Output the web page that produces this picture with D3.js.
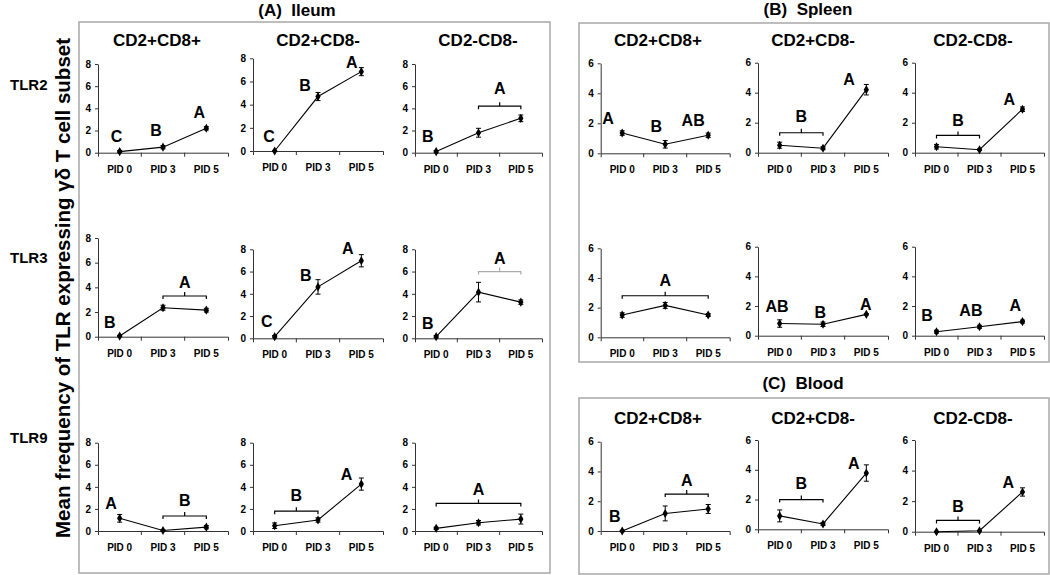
<!DOCTYPE html>
<html>
<head>
<meta charset="utf-8">
<script src="https://cdn.jsdelivr.net/npm/d3@7"></script>
<style>
  html, body { margin: 0; padding: 0; background: #fff; }
  svg { display: block; }
  .bold { font-family: "Liberation Sans", Arial, sans-serif; font-weight: bold; fill: #000; white-space: pre; }
  .tick text { font-family: "Liberation Sans Narrow", "Arial Narrow", "Liberation Sans", sans-serif; font-weight: bold; font-size: 10px; fill: #000; }
  .tick line, .domain { stroke: #333; stroke-width: 1; }
</style>
</head>
<body>
<svg id="chart" width="1050" height="575"></svg>
<script>
// ---------------- DATA ----------------
const categories = ["PID 0", "PID 3", "PID 5"];
const subsets = ["CD2+CD8+", "CD2+CD8-", "CD2-CD8-"];
const receptors = ["TLR2", "TLR3", "TLR9"];
const ileumTicks = [0, 2, 4, 6, 8];
const spleenBloodTicks = [0, 2, 4, 6];
const yAxisTitle = "Mean frequency of TLR expressing γδ T cell subset";
const tissueTitles = ["(A)  Ileum", "(B)  Spleen", "(C)  Blood"];

// means / SE per subset (CD2+CD8+, CD2+CD8-, CD2-CD8-), each over PID 0, 3, 5
const ileumTLR2Mean = [[0.1, 0.5, 2.2], [0.0, 4.7, 6.85], [0.1, 1.8, 3.1]];
const ileumTLR2Err  = [[0.1, 0.15, 0.15], [0.05, 0.35, 0.35], [0.1, 0.4, 0.3]];
const ileumTLR3Mean = [[0.05, 2.35, 2.15], [0.15, 4.62, 6.97], [0.15, 4.15, 3.25]];
const ileumTLR3Err  = [[0.05, 0.2, 0.15], [0.1, 0.65, 0.55], [0.1, 0.88, 0.2]];
const ileumTLR9Mean = [[1.15, 0.05, 0.35], [0.48, 1.0, 4.25], [0.24, 0.75, 1.08]];
const ileumTLR9Err  = [[0.35, 0.05, 0.15], [0.25, 0.2, 0.55], [0.1, 0.2, 0.45]];
const spleenTLR2Mean = [[1.35, 0.6, 1.2], [0.5, 0.3, 4.2], [0.4, 0.2, 2.9]];
const spleenTLR2Err  = [[0.15, 0.25, 0.15], [0.2, 0.1, 0.35], [0.15, 0.05, 0.15]];
const spleenTLR3Mean = [[1.5, 2.15, 1.5], [0.82, 0.77, 1.44], [0.27, 0.6, 0.95]];
const spleenTLR3Err  = [[0.15, 0.2, 0.1], [0.25, 0.15, 0.05], [0.1, 0.1, 0.1]];
const bloodMean = [[0.0, 1.18, 1.48], [0.9, 0.36, 3.78], [0.0, 0.06, 2.6]];
const bloodErr  = [[0.05, 0.5, 0.3], [0.4, 0.1, 0.55], [0.02, 0.02, 0.27]];

// significance letters: [text, category position, y value]
const ileumTLR2Letters = [[["C", -0.07, 1.5], ["B", 0.84, 2.0], ["A", 1.84, 3.65]],
                          [["C", -0.13, 1.3], ["B", 0.7, 5.7], ["A", 1.78, 7.7]],
                          [["B", -0.2, 1.5]]];
const ileumTLR3Letters = [[["B", -0.23, 1.2]],
                          [["C", -0.18, 1.5], ["B", 0.72, 5.7], ["A", 1.69, 8.1]],
                          [["B", -0.2, 1.35]]];
const ileumTLR9Letters = [[["A", -0.2, 2.5]], [["A", 1.66, 5.16]], []];
const spleenTLR2Letters = [[["A", -0.33, 2.33], ["B", 0.79, 1.78], ["AB", 1.65, 2.2]],
                           [["A", 1.6, 4.9]], [["A", 1.69, 3.55]]];
const spleenTLR3Letters = [[],
                           [["AB", -0.06, 2.0], ["B", 0.94, 1.6], ["A", 1.99, 2.1]],
                           [["B", -0.22, 1.35], ["AB", 0.8, 1.7], ["A", 1.83, 2.03]]];
const bloodLetters = [[["B", -0.17, 0.96]], [["A", 1.71, 4.45]], [["A", 1.67, 3.25]]];

// brackets: [from category, to category, bracket y, text, text y, grey?]
const ileumTLR2Brackets = [[], [], [[1, 2, 4.2, "A", 5.8, false]]];
const ileumTLR3Brackets = [[[1, 2, 3.3, "A", 4.45, false]], [], [[1, 2, 6.0, "A", 7.2, true]]];
const ileumTLR9Brackets = [[[1, 2, 1.36, "B", 2.8, false]], [[0, 1, 1.8, "B", 3.26, false]], [[0, 2, 2.5, "A", 3.8, false]]];
const spleenTLR2Brackets = [[], [[0, 1, 1.33, "B", 2.44, false]], [[0, 1, 1.15, "B", 2.17, false]]];
const spleenTLR3Brackets = [[[0, 2, 2.8, "A", 3.84, false]], [], []];
const bloodBrackets = [[[1, 2, 2.48, "A", 3.42, false]], [[0, 1, 2.0, "B", 3.07, false]], [[0, 1, 0.74, "B", 1.65, false]]];

// ---------------- LAYOUT ----------------
const svg = d3.select("#chart");
const ileumX = [98, 253, 415], ileumW = [130, 130, 127];
const sbX = [600.7, 758, 915], sbW = [129, 130, 129];
const ileumY = [
  [[152.7, 64], [151, 58.3], [152.7, 64]],
  [[336.7, 238], [338.3, 249.3], [338.3, 249.3]],
  [[531, 442.7], [531, 442.7], [531, 442.7]]
];
const spleenY = [
  [[153.3, 63.3], [152.7, 62.7], [152.7, 62.7]],
  [[337.3, 248.3], [335.7, 246.7], [335.7, 246.7]]
];
const bloodY = [[531, 441.7], [529.3, 440], [531.7, 440]];
const ileumTitleX = [157, 318, 478], sbTitleX = [658, 813, 973];

// boxes
const boxes = [[79, 22, 471, 551], [579, 23, 470, 339], [579, 398, 470, 176]];
svg.selectAll("rect.box").data(boxes).join("rect").attr("class", "box")
  .attr("x", d => d[0]).attr("y", d => d[1]).attr("width", d => d[2]).attr("height", d => d[3])
  .attr("fill", "none").attr("stroke", "#a8a8a8").attr("stroke-width", 1.5);

// tissue titles
const titlePos = [[297, 16], [808, 15], [803, 389]];
tissueTitles.forEach((t, i) => {
  svg.append("text").attr("class", "bold").attr("x", titlePos[i][0]).attr("y", titlePos[i][1])
    .attr("text-anchor", "middle").attr("font-size", 17).text(t);
});

// subset column titles
subsets.forEach((s, i) => {
  svg.append("text").attr("class", "bold").attr("x", ileumTitleX[i]).attr("y", 46)
    .attr("text-anchor", "middle").attr("font-size", 17).text(s);
  svg.append("text").attr("class", "bold").attr("x", sbTitleX[i]).attr("y", 46)
    .attr("text-anchor", "middle").attr("font-size", 17).text(s);
  svg.append("text").attr("class", "bold").attr("x", sbTitleX[i]).attr("y", 424)
    .attr("text-anchor", "middle").attr("font-size", 17).text(s);
});

// receptor row labels
const rowLabelY = [90, 263, 443];
receptors.forEach((r, i) => {
  svg.append("text").attr("class", "bold").attr("x", 10).attr("y", rowLabelY[i])
    .attr("font-size", 15).text(r);
});

// y-axis title
svg.append("text").attr("class", "bold")
  .attr("transform", "translate(70,288) rotate(-90)")
  .attr("text-anchor", "middle").attr("font-size", 20.5).text(yAxisTitle);

// ---------------- PANELS ----------------
function drawPanel(p) {
  const g = svg.append("g");
  const x = d3.scaleBand().domain(categories).range([p.x0, p.x0 + p.w]);
  const xf = d3.scaleLinear().domain([-0.5, 2.5]).range([p.x0, p.x0 + p.w]);
  const y = d3.scaleLinear().domain([0, p.max]).range([p.yZero, p.yTop]);

  // y axis
  g.append("g").attr("transform", `translate(${p.x0},0)`)
    .call(d3.axisLeft(y).tickValues(p.ticks).tickSize(3).tickSizeOuter(0).tickPadding(4).tickFormat(d3.format("d")));
  // x axis
  const xa = g.append("g").attr("transform", `translate(0,${p.yZero})`)
    .call(d3.axisBottom(x).tickSizeInner(0).tickSizeOuter(4).tickPadding(13));
  xa.selectAll(".bnd").data([1, 2]).join("line").attr("class", "bnd")
    .attr("x1", d => xf(d - 0.5)).attr("x2", d => xf(d - 0.5))
    .attr("y1", 0).attr("y2", 4).attr("stroke", "#333");

  const pts = p.mean.map((v, i) => ({ i, v, e: p.err[i] }));
  // line
  g.append("path").datum(pts)
    .attr("d", d3.line().x(d => xf(d.i)).y(d => y(d.v)))
    .attr("fill", "none").attr("stroke", "#000").attr("stroke-width", 1.1);
  // error bars
  const eb = g.selectAll(".eb").data(pts).join("g").attr("class", "eb");
  eb.append("line").attr("x1", d => xf(d.i)).attr("x2", d => xf(d.i))
    .attr("y1", d => y(d.v - d.e)).attr("y2", d => y(d.v + d.e)).attr("stroke", "#000");
  [-1, 1].forEach(s => {
    eb.append("line").attr("x1", d => xf(d.i) - 2.5).attr("x2", d => xf(d.i) + 2.5)
      .attr("y1", d => y(d.v + s * d.e)).attr("y2", d => y(d.v + s * d.e)).attr("stroke", "#000");
  });
  // markers
  g.selectAll(".mk").data(pts).join("path").attr("class", "mk")
    .attr("transform", d => `translate(${xf(d.i)},${y(d.v)})`)
    .attr("d", d3.symbol(d3.symbolDiamond).size(24)).attr("fill", "#000");

  // letters
  g.selectAll(".lt").data(p.letters).join("text").attr("class", "lt bold")
    .attr("x", d => xf(d[1])).attr("y", d => y(d[2])).attr("dy", "0.36em")
    .attr("text-anchor", "middle").attr("font-size", 16).text(d => d[0]);

  // brackets
  p.brackets.forEach(b => {
    const xa0 = xf(b[0]), xa1 = xf(b[1]), yb = y(b[2]), xm = (xa0 + xa1) / 2;
    const col = b[5] ? "#aaa" : "#000";
    g.append("path")
      .attr("d", `M${xa0},${yb + 3}V${yb}H${xa1}V${yb + 3}M${xm},${yb}V${yb - 4}`)
      .attr("fill", "none").attr("stroke", col).attr("stroke-width", 1.2);
    g.append("text").attr("class", "bold").attr("x", xm).attr("y", y(b[4])).attr("dy", "0.36em")
      .attr("text-anchor", "middle").attr("font-size", 16).text(b[3]);
  });
}

const ileumMeans = [ileumTLR2Mean, ileumTLR3Mean, ileumTLR9Mean];
const ileumErrs = [ileumTLR2Err, ileumTLR3Err, ileumTLR9Err];
const ileumLetters = [ileumTLR2Letters, ileumTLR3Letters, ileumTLR9Letters];
const ileumBrackets = [ileumTLR2Brackets, ileumTLR3Brackets, ileumTLR9Brackets];
for (let r = 0; r < 3; r++) for (let c = 0; c < 3; c++) {
  drawPanel({ x0: ileumX[c], w: ileumW[c], yZero: ileumY[r][c][0], yTop: ileumY[r][c][1],
    max: 8, ticks: ileumTicks, mean: ileumMeans[r][c], err: ileumErrs[r][c],
    letters: ileumLetters[r][c], brackets: ileumBrackets[r][c] });
}
const spleenMeans = [spleenTLR2Mean, spleenTLR3Mean];
const spleenErrs = [spleenTLR2Err, spleenTLR3Err];
const spleenLetters = [spleenTLR2Letters, spleenTLR3Letters];
const spleenBrackets = [spleenTLR2Brackets, spleenTLR3Brackets];
for (let r = 0; r < 2; r++) for (let c = 0; c < 3; c++) {
  drawPanel({ x0: sbX[c], w: sbW[c], yZero: spleenY[r][c][0], yTop: spleenY[r][c][1],
    max: 6, ticks: spleenBloodTicks, mean: spleenMeans[r][c], err: spleenErrs[r][c],
    letters: spleenLetters[r][c], brackets: spleenBrackets[r][c] });
}
for (let c = 0; c < 3; c++) {
  drawPanel({ x0: sbX[c], w: sbW[c], yZero: bloodY[c][0], yTop: bloodY[c][1],
    max: 6, ticks: spleenBloodTicks, mean: bloodMean[c], err: bloodErr[c],
    letters: bloodLetters[c], brackets: bloodBrackets[c] });
}
</script>
</body>
</html>
